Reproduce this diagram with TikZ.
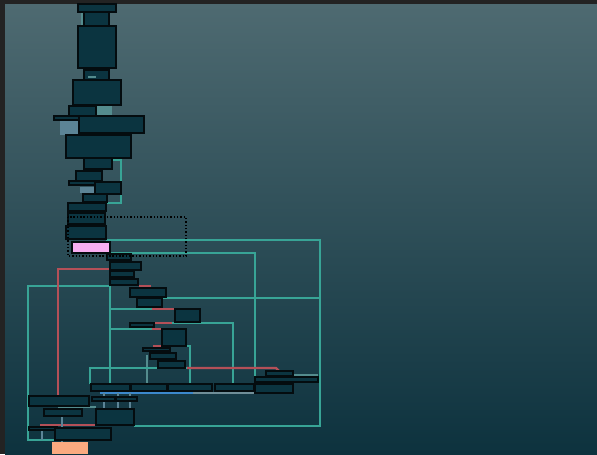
\documentclass[tikz,border=0pt]{standalone}
\usetikzlibrary{positioning}
\definecolor{framegray}{RGB}{35,35,35}
\definecolor{bgtop}{RGB}{78,106,113}
\definecolor{bgbottom}{RGB}{13,50,62}
\definecolor{blockfill}{RGB}{11,52,64}
\definecolor{blockline}{RGB}{4,12,15}
\definecolor{edgeteal}{RGB}{56,164,150}
\definecolor{edgepale}{RGB}{84,140,142}
\definecolor{edgered}{RGB}{180,80,88}
\definecolor{edgeblue}{RGB}{60,136,204}
\definecolor{edgegray}{RGB}{112,142,152}
\definecolor{palebluebg}{RGB}{92,132,150}
\definecolor{curpink}{RGB}{248,174,242}
\definecolor{exitorange}{RGB}{250,170,128}
\tikzset{
  blk/.style={
    draw=blockline, fill=blockfill, line width=0.8pt,
    inner sep=0pt, outer sep=0pt, anchor=north west
  },
  curblk/.style={blk, fill=curpink, line width=1pt},
  exitblk/.style={blk, fill=exitorange, draw=none},
  tealedge/.style={draw=edgeteal, line width=1.3pt},
  paleedge/.style={draw=edgepale, line width=1.3pt},
  rededge/.style={draw=edgered, line width=1.3pt},
  blueedge/.style={draw=edgeblue, line width=1.4pt},
  grayedge/.style={draw=edgegray, line width=1.4pt},
  palebluedge/.style={draw=palebluebg, line width=1.1pt},
  viewbox/.style={
    draw=black, line width=0.8pt, dash pattern=on 0.8pt off 1.1pt
  },
}
\begin{document}
\begin{tikzpicture}[x=0.02cm, y=-0.02cm]

  %% Frame and backdrop
  \fill[framegray] (0,0) rectangle (597,454);
  \shade[top color=bgtop, bottom color=bgbottom] (5,4) rectangle (597,454);
  \useasboundingbox (0,0) rectangle (597,454);

  %% Edges under the upper chain
  \draw[paleedge] (82,12) -- (82,26);
  \draw[tealedge] (87,68) -- (87,70) (106,68) -- (106,70);
  \fill[edgepale] (97,106) rectangle (112,116);
  \fill[palebluebg] (60,120) rectangle (79,135);
  \draw[tealedge] (112,160) -| (121,203) -- (107,203);
  \draw[rededge] (86,170.5) -- (93,170.5);
  \fill[palebluebg] (80,187) rectangle (94,193);

  %% Loops of the lower part
  \draw[tealedge] (106,240) -| (320,426) -- (134,426);
  \draw[tealedge] (110,253) -| (255,384);
  \draw[tealedge] (162,298) -- (320,298);
  \draw[tealedge] (110,286) -| (28,440) -- (60,440);
  \draw[tealedge] (110,286) -- (110,384);
  \draw[rededge] (110,269) -| (58,396);
  \draw[rededge] (139,286) -- (151,286);
  \draw[tealedge] (110,309) -- (152,309);
  \draw[rededge] (152,309) -- (175,309);
  \draw[rededge] (154,323) -- (172,323);
  \draw[tealedge] (172,323) -| (233,384);
  \draw[tealedge] (110,329) -- (152,329);
  \draw[rededge] (152,329) -- (162,329);
  \draw[rededge] (153,346) -- (163,346);
  \draw[tealedge] (170,346) -| (190,384);
  \draw[paleedge] (147,355) -- (147,384);
  \draw[tealedge] (90,384) |- (187,368);
  \draw[rededge] (187,368) -- (276,368) -- (279,371);
  \draw[paleedge] (293,375) -- (318,375);
  \draw[blueedge] (100,393) -- (193,393);
  \draw[grayedge] (193,393) -- (274,393);
  \draw[palebluedge] (104,393) -- (104,409) (118,393) -- (118,409)
    (130,393) -- (130,409);
  \draw[paleedge] (58,407) -- (96,407);
  \draw[rededge] (40,425) -- (97,425);
  \draw[palebluedge] (42,430) -- (42,440) (62,416) -- (62,442);

  %% Blocks
  \foreach \n/\xa/\ya/\xb/\yb in {
      a/78/4/116/12, b/84/12/109/26, c/78/26/116/68, d/84/70/109/80,
      e/73/80/121/105, f/69/106/96/116, g/54/116/80/120, h/79/116/144/133,
      i/66/135/131/158, j/84/158/112/169, k/76/171/102/181, l/69/181/97/185,
      m/95/182/121/194, n/83/194/107/202, o/68/203/106/211, p/68/213/105/224,
      q/66/226/106/239, s/107/254/131/260, t/110/262/141/270,
      u/110/271/134/277, v/110/279/138/285, w/130/288/166/297,
      x/137/298/162/307, y/175/309/200/322, z/130/323/154/327,
      aa/162/329/186/346, ab/143/348/170/351, ac/150/353/176/359,
      ad/158/361/185/368, ae/266/371/293/376, af/255/377/318/382,
      ra/91/384/130/391, rb/131/384/167/391, rc/168/384/212/391,
      rd/215/384/254/391, ag/255/384/293/393, ah/29/396/89/406,
      ai/92/397/115/401, aj/116/397/137/401, ak/44/409/82/416,
      al/96/409/134/425, am/29/427/57/430, an/55/428/111/440}
    \node[blk, minimum width={(\xb-\xa)*0.02cm},
          minimum height={(\yb-\ya)*0.02cm}] (\n) at (\xa,\ya) {};
  \draw[paleedge, line width=0.7pt] (88,77) -- (96,77);

  %% Current and exit blocks
  \node[curblk, minimum width=0.76cm, minimum height=0.22cm]
    (cur) at (72,242) {};
  \node[exitblk, minimum width=0.72cm, minimum height=0.24cm]
    (exit) at (52,442) {};

  %% Viewport
  \draw[viewbox] (68,217) rectangle (186,256);

\end{tikzpicture}
\end{document}
